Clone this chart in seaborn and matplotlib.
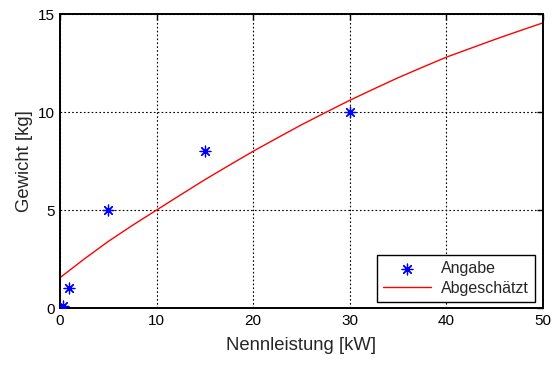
import matplotlib
matplotlib.use("Agg")
import matplotlib.pyplot as plt
import seaborn as sns
import pandas as pd

# Data
angabe_x = [0.3, 0.9, 5, 15, 30]
angabe_y = [0.1, 1.0, 5, 8, 10]

fit_x = [0, 2.5, 5, 7.5, 10, 12.5, 15, 17.5, 20, 22.5, 25, 27.5, 30, 32.5, 35, 37.5, 40, 42.5, 45, 47.5, 50]
fit_y = [1.55, 2.5, 3.4, 4.22, 5.0, 5.78, 6.55, 7.28, 8.0, 8.68, 9.35, 9.98, 10.6, 11.18, 11.75, 12.28, 12.8, 13.25, 13.7, 14.13, 14.55]

x_ticks = [0, 10, 20, 30, 40, 50]
y_ticks = [0, 5, 10, 15]

sns.set_style("white")
plt.rcParams['font.family'] = ['Liberation Sans', 'DejaVu Sans']

fig = plt.figure(figsize=(5.52, 3.65), dpi=100)
ax = fig.add_axes([0.1087, 0.156, 0.8750, 0.8056])

df_pts = pd.DataFrame({"x": angabe_x, "y": angabe_y})
df_fit = pd.DataFrame({"x": fit_x, "y": fit_y})

sns.scatterplot(data=df_pts, x="x", y="y", ax=ax, marker=(8, 2, 0), s=60,
                color="blue", edgecolor="blue", linewidth=0.9, label="Angabe", zorder=3)
sns.lineplot(data=df_fit, x="x", y="y", ax=ax, color="red", linewidth=1.0,
             label="Abgeschätzt", zorder=2)

ax.set_xlim(0, 50)
ax.set_ylim(0, 15)
ax.set_xticks(x_ticks)
ax.set_yticks(y_ticks)
ax.tick_params(axis='both', which='both', direction='in', top=True, right=True,
               length=4, width=1, labelsize=11, colors='black', pad=4)
ax.grid(True, color='black', linestyle=(0, (1.5, 2)), linewidth=0.8)
for s in ax.spines.values():
    s.set_color('black')
    s.set_linewidth(1.4)

ax.set_xlabel("Nennleistung [kW]", fontsize=13.3, labelpad=7)
ax.set_ylabel("Gewicht [kg]", fontsize=13.3, labelpad=3)

leg = ax.legend(loc='lower right', bbox_to_anchor=(0.983, 0.02), fontsize=11.5,
                frameon=True, fancybox=False, shadow=False, handlelength=3,
                borderpad=0.4, labelspacing=0.3, handletextpad=0.6, borderaxespad=0)
leg.get_frame().set_edgecolor('black')
leg.get_frame().set_linewidth(1.0)
leg.get_frame().set_alpha(1)

fig.savefig("out.png", dpi=100)
